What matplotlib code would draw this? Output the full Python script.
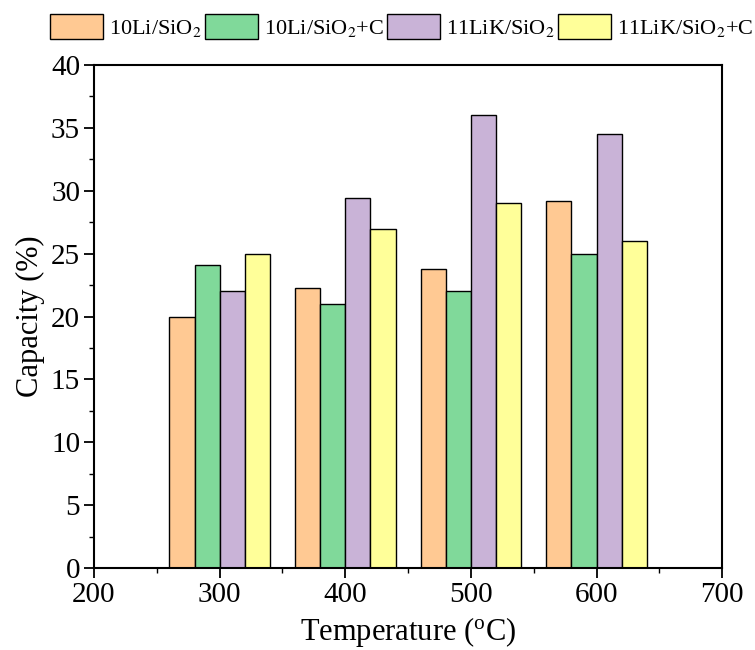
import numpy as np
import matplotlib
matplotlib.use("Agg")
import matplotlib.pyplot as plt
from matplotlib.ticker import MultipleLocator

plt.rcParams['font.family'] = ['Liberation Serif', 'DejaVu Serif']
plt.rcParams['mathtext.fontset'] = 'stix'

temps = [300, 400, 500, 600]
series_names = [r'10Li/SiO$_2$', r'10Li/SiO$_2$+C', r'11LiK/SiO$_2$', r'11LiK/SiO$_2$+C']
li_sio2 = [20.0, 22.3, 23.8, 29.2]
li_sio2_c = [24.1, 21.0, 22.0, 25.0]
lik_sio2 = [22.0, 29.4, 36.0, 34.5]
lik_sio2_c = [25.0, 27.0, 29.0, 26.0]
colors = ['#FFC993', '#80D99A', '#C9B3D7', '#FFFF99']

fig = plt.figure(figsize=(7.55, 6.5), dpi=100)
ax = fig.add_axes([0.1245, 0.126, 0.832, 0.774])

width = 20
offsets = [-30, -10, 10, 30]
handles = []
for vals, off, col, name in zip([li_sio2, li_sio2_c, lik_sio2, lik_sio2_c], offsets, colors, series_names):
    b = ax.bar(np.array(temps) + off, vals, width=width, color=col,
               edgecolor='black', linewidth=1.0, label=name)
    handles.append(b)

ax.set_xlim(200, 700)
ax.set_ylim(0, 40)
ax.xaxis.set_major_locator(MultipleLocator(100))
ax.xaxis.set_minor_locator(MultipleLocator(50))
ax.yaxis.set_major_locator(MultipleLocator(5))
ax.yaxis.set_minor_locator(MultipleLocator(2.5))
ax.tick_params(which='major', direction='out', length=7, width=1.3, labelsize=21, pad=3)
ax.tick_params(which='minor', direction='out', length=3.5, width=1.0)
for s in ax.spines.values():
    s.set_linewidth(1.5)

ax.set_xlabel(r'Temperature ($\mathregular{^o}$C)', fontsize=22, labelpad=5)
ax.set_ylabel('Capacity (%)', fontsize=22, labelpad=4)

fig.legend(handles=handles, loc='upper left', bbox_to_anchor=(0.066, 0.978),
           ncol=4, frameon=False, fontsize=16, handlelength=2.4, handleheight=1.35,
           handletextpad=0.25, columnspacing=0.15, borderaxespad=0.0, borderpad=0.0)

fig.savefig('out.png', dpi=100)
